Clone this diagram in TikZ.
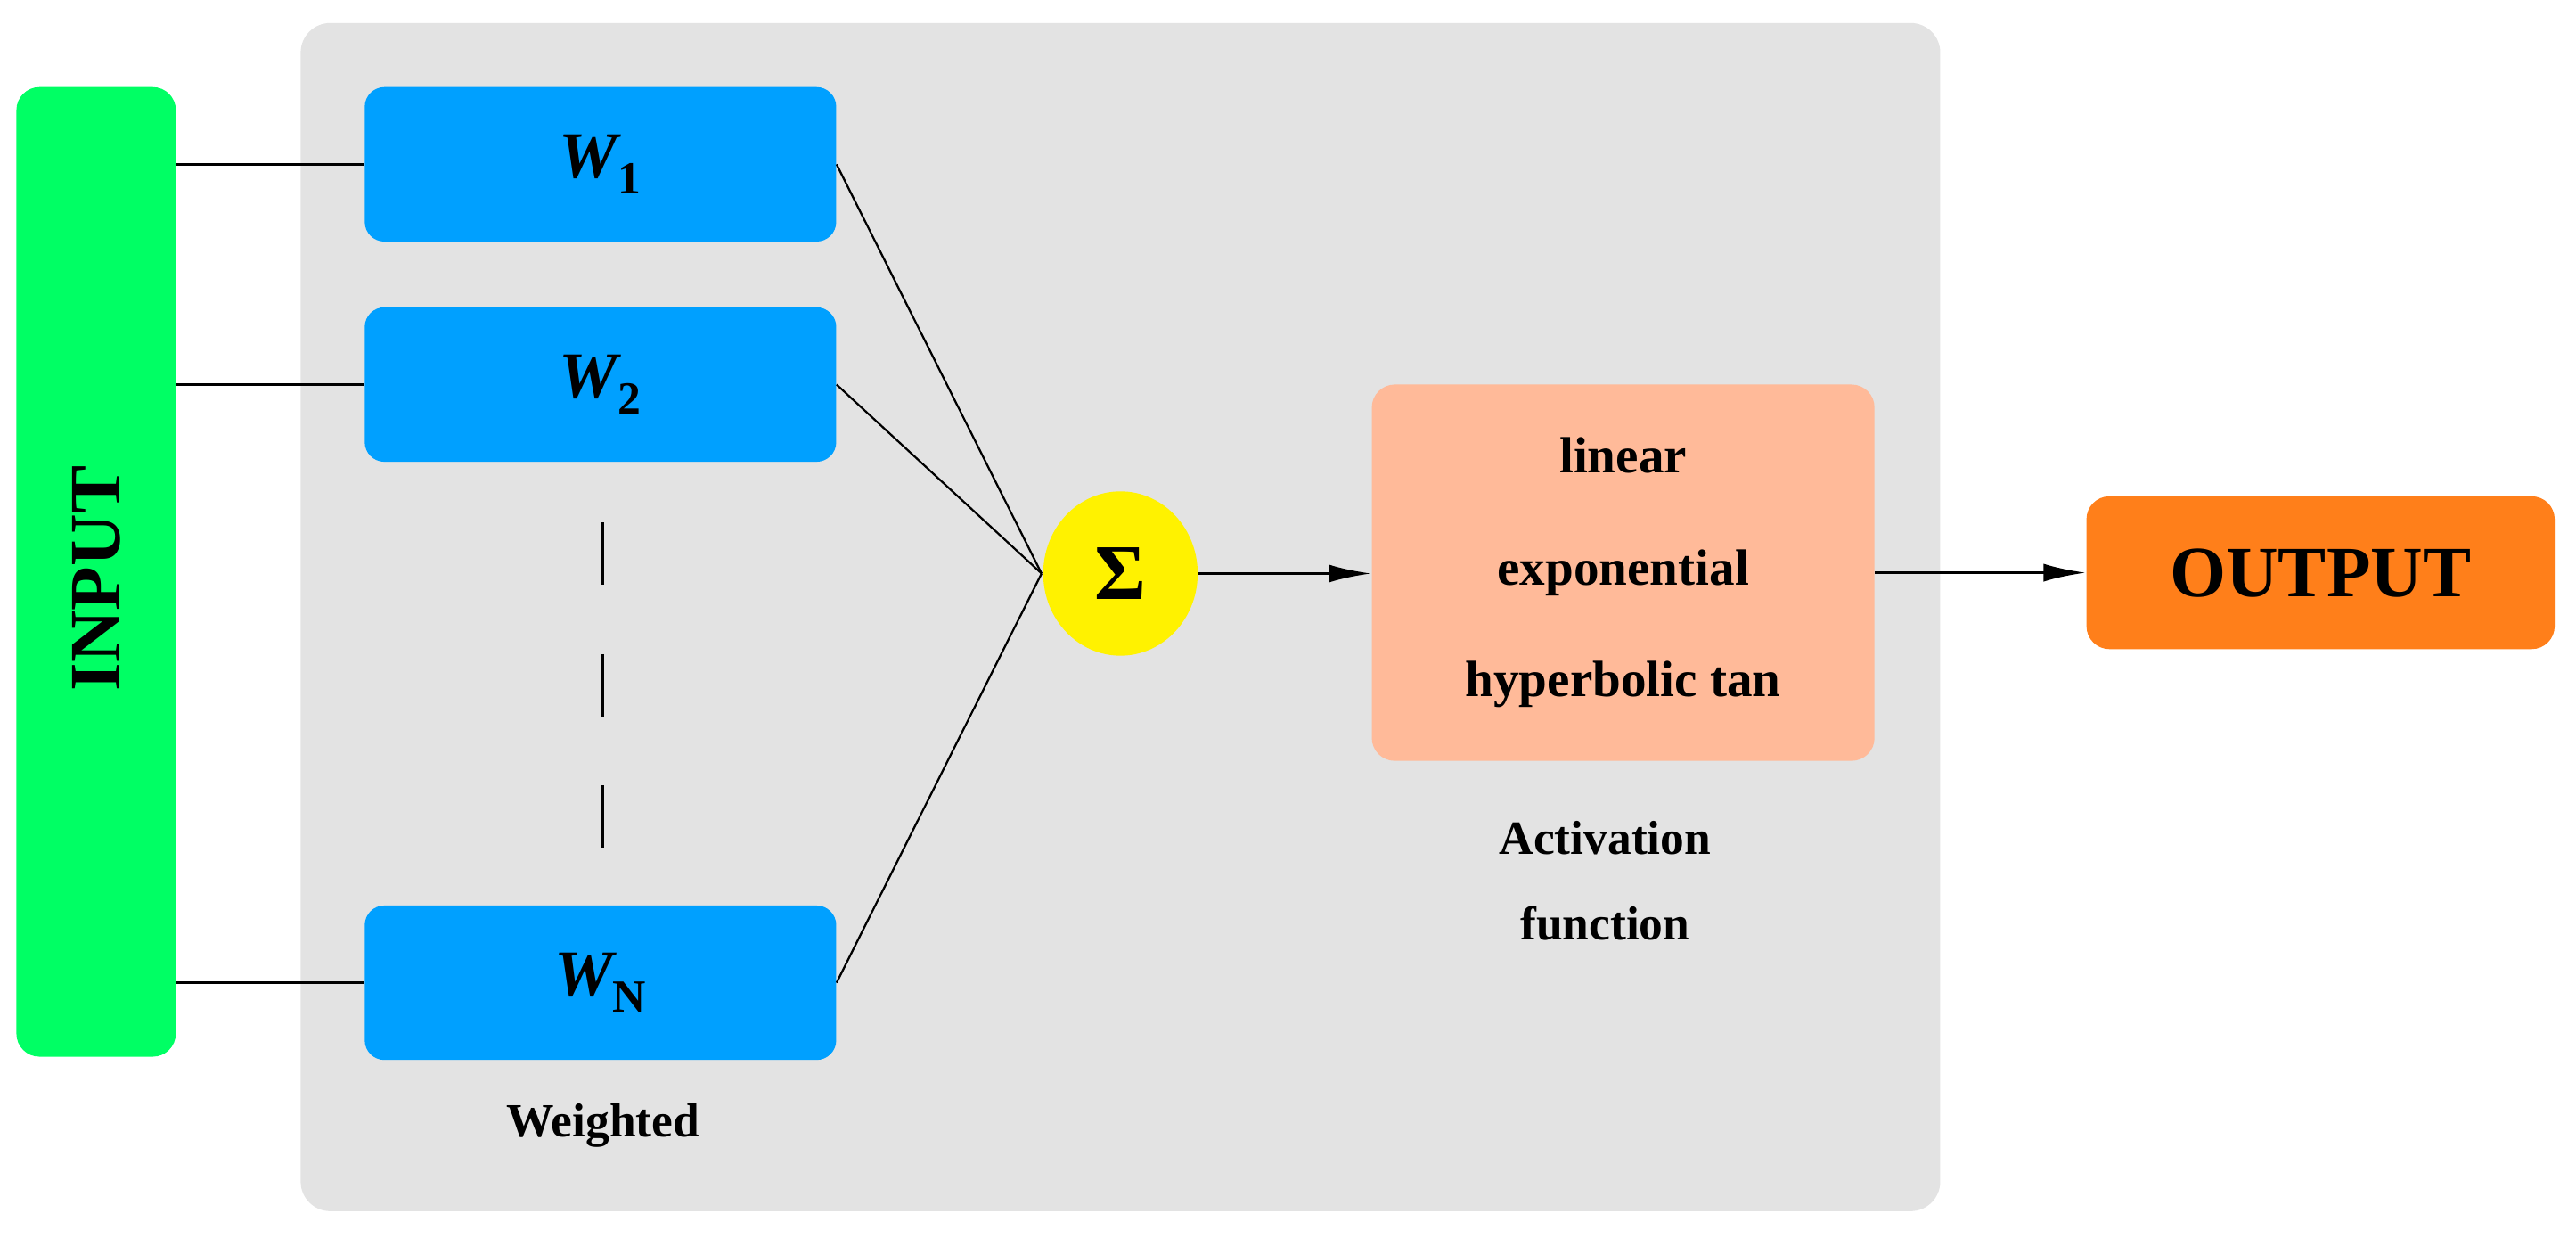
\documentclass[tikz,border=0pt]{standalone}
\usepackage{fontspec}
\setmainfont{Liberation Serif}
\usetikzlibrary{arrows.meta,shapes.geometric}
\definecolor{wblue}{RGB}{0,160,255}
\definecolor{ingreen}{RGB}{0,255,100}
\definecolor{actc}{RGB}{255,186,153}
\definecolor{outc}{RGB}{255,127,26}
\definecolor{bgc}{RGB}{227,227,227}
\begin{document}
\begin{tikzpicture}[x=1pt,y=-1pt,
  wbox/.style={fill=wblue,rounded corners=12pt,minimum width=287pt,minimum height=94pt,inner sep=0pt,font=\fontsize{40}{44}\selectfont\bfseries\itshape},
  ln/.style={line width=1.6pt},
  arr/.style={line width=2pt,-{Latex[length=26pt,width=11pt]}}]
\useasboundingbox (0,0) rectangle (1568,753);
\fill[bgc,rounded corners=18pt] (183,14) rectangle (1181,737);
\node[fill=ingreen,rounded corners=14pt,minimum width=97pt,minimum height=590pt,inner sep=0pt] (in) at (58.5,348) {};
\node[rotate=90,font=\fontsize{44}{48}\selectfont\bfseries] (intext) at (58.5,352) {INPUT};
\node[wbox] (w1) at (365.5,100) {W\textsubscript{\upshape 1}};
\node[wbox] (w2) at (365.5,234) {W\textsubscript{\upshape 2}};
\node[wbox] (wn) at (365.5,598) {W\textsubscript{\upshape N}};
\coordinate (d1) at (367,318);
\coordinate (d2) at (367,520);
\draw[ln,dash pattern=on 38pt off 42pt] (d1) -- (d2);
\node[fill=yellow,ellipse,minimum width=94pt,minimum height=100pt,inner sep=0pt,font=\fontsize{48}{50}\selectfont\bfseries] (sig) at (682,349) {Σ};
\coordinate (s) at (634,349);
\draw[ln] (in.east |- w1.west) -- (w1.west);
\draw[ln] (in.east |- w2.west) -- (w2.west);
\draw[ln] (in.east |- wn.west) -- (wn.west);
\draw[line width=1.2pt] (w1.east) -- (s);
\draw[line width=1.2pt] (w2.east) -- (s);
\draw[line width=1.2pt] (wn.east) -- (s);
\node[fill=actc,rounded corners=14pt,minimum width=306pt,minimum height=229pt,inner sep=0pt,align=center,font=\fontsize{31}{68}\selectfont\bfseries] (act) at (988,348.5) {linear\\exponential\\hyperbolic tan};
\node[fill=outc,rounded corners=14pt,minimum width=285pt,minimum height=93pt,inner sep=0pt,font=\fontsize{44}{48}\selectfont\bfseries] (out) at (1412.5,348.5) {OUTPUT};
\draw[arr] (sig.east) -- (act.west |- sig.east);
\draw[arr] (act.east |- out.west) -- (out.west);
\node[align=center,font=\fontsize{29}{52}\selectfont\bfseries] (actl) at (977,536) {Activation\\function};
\node[font=\fontsize{29}{32}\selectfont\bfseries] (wl) at (367,685) {Weighted};
\end{tikzpicture}
\end{document}
